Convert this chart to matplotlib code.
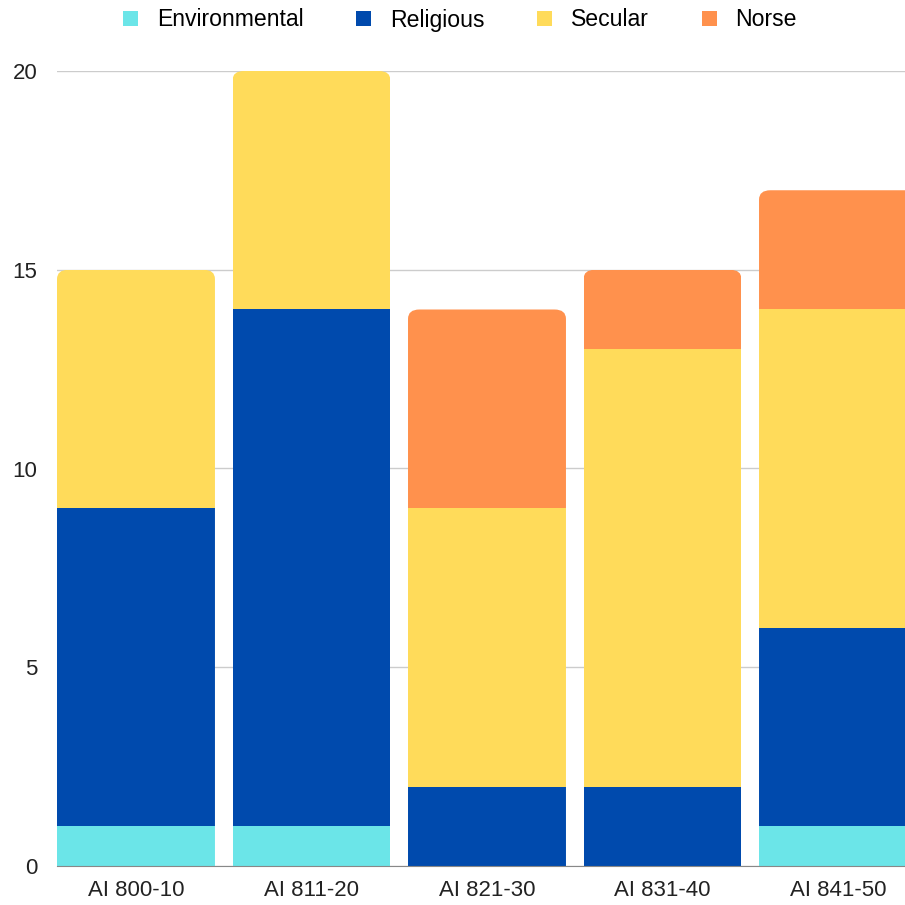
import numpy as np
import matplotlib
matplotlib.use("Agg")
import matplotlib.pyplot as plt
from matplotlib.patches import FancyBboxPatch, Patch

plt.rcParams["font.family"] = ["Liberation Sans", "DejaVu Sans"]

periods = ["AI 800-10", "AI 811-20", "AI 821-30", "AI 831-40", "AI 841-50"]
environmental = [1, 1, 0, 0, 1]
religious = [8, 13, 2, 2, 5]
secular = [6, 6, 7, 11, 8]
norse = [0, 0, 5, 2, 3]

series = [("Environmental", environmental, "#6be5e8"),
          ("Religious", religious, "#004aad"),
          ("Secular", secular, "#ffdb5a"),
          ("Norse", norse, "#ff914d")]

fig = plt.figure(figsize=(9.05, 9.05), dpi=100)
W = H = 905
ax = fig.add_axes([57 / W, (H - 866) / H, (W - 57) / W, (866 - 71) / H])

x = np.arange(len(periods))
width = 0.9
bottom = np.zeros(len(periods))
patches_by_bar = [[] for _ in periods]
for name, vals, col in series:
    vals = np.array(vals, dtype=float)
    bars = ax.bar(x, vals, width, bottom=bottom, color=col, label=name,
                  linewidth=0, zorder=2)
    for i, b in enumerate(bars):
        patches_by_bar[i].append(b)
    bottom += vals

# round the top corners of each stack via a clip path
r = 0.065
for i, total in enumerate(bottom):
    clip = FancyBboxPatch((x[i] - width / 2, -1), width, total + 1,
                          boxstyle=f"round,pad=0,rounding_size={r}",
                          mutation_aspect=3.6, transform=ax.transData,
                          facecolor="none", edgecolor="none")
    ax.add_patch(clip)
    for p in patches_by_bar[i]:
        p.set_clip_path(clip)

ax.set_xlim(-0.45, (W - 136) / 175.5)
ax.set_ylim(0, 20)
ax.set_yticks([0, 5, 10, 15, 20])
ax.set_xticks(x)
ax.set_xticklabels(periods)
ax.grid(axis="y", color="#cccccc", lw=1, zorder=0)
for s in ["top", "right", "left"]:
    ax.spines[s].set_visible(False)
ax.spines["bottom"].set_color("#888888")
ax.spines["bottom"].set_zorder(3)
ax.tick_params(axis="both", length=0, labelsize=16, colors="#222222")
ax.tick_params(axis="y", pad=14)
ax.tick_params(axis="x", pad=10)

handles = [Patch(facecolor=c, label=n) for n, _, c in series]
fig.legend(handles=handles, loc="center", bbox_to_anchor=(460 / W, 1 - 20 / H),
           ncol=4, frameon=False, fontsize=16.6, handlelength=0.65, handleheight=0.65,
           handletextpad=0.8, columnspacing=2.3)

plt.savefig("out.png", dpi=100)
